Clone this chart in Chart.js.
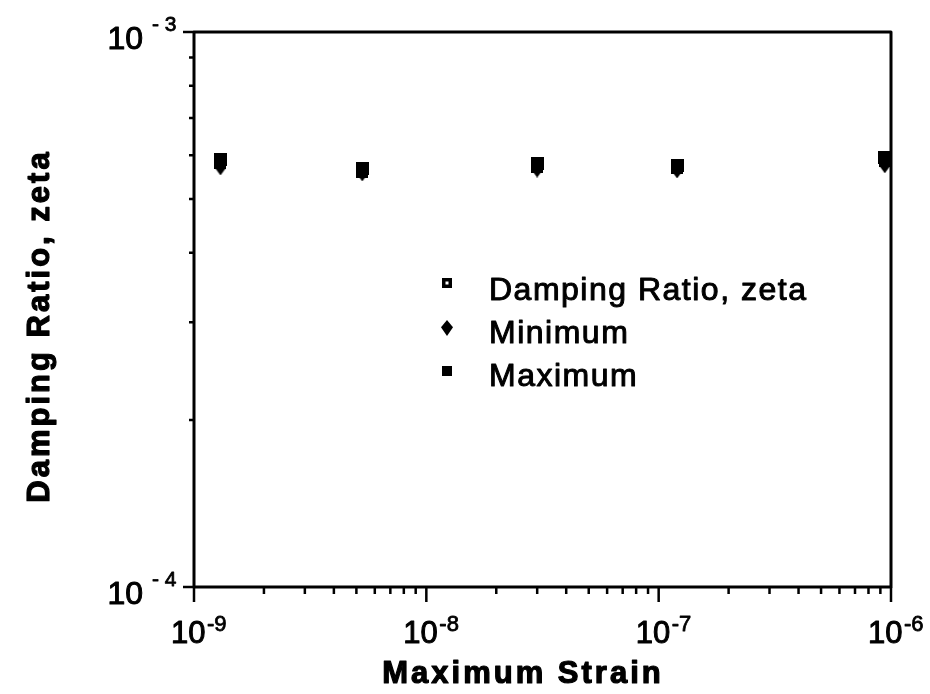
<!DOCTYPE html>
<html>
<head>
<meta charset="utf-8">
<script src="https://cdn.jsdelivr.net/npm/chart.js@4"></script>
<style>
  html, body { margin: 0; padding: 0; background: #fff; }
  canvas { display: block; }
</style>
</head>
<body>
<canvas id="chart" width="930" height="694"></canvas>
<script>
// values
const strain = [1.3e-9, 5.3e-9, 3.0e-8, 1.2e-7, 9.4e-7];
const dampingRatio = [5.80e-4, 5.60e-4, 5.72e-4, 5.68e-4, 5.85e-4];
const minimum = [5.69e-4, 5.55e-4, 5.64e-4, 5.62e-4, 5.74e-4];
const maximum = [5.89e-4, 5.68e-4, 5.80e-4, 5.75e-4, 5.94e-4];

const seriesLabels = ["Damping Ratio, zeta", "Minimum", "Maximum"];

// axis ticks
const xDecades = [1e-9, 1e-8, 1e-7, 1e-6];
const xExponents = ["-9", "-8", "-7", "-6"];
const yDecades = [1e-4, 1e-3];
const yExponents = ["-4", "-3"];
const minorSteps = [2, 3, 4, 5, 6, 7, 8, 9];

const FONT = "'Liberation Sans', Arial, Helvetica, sans-serif";

// little canvases used as point styles
function marker(kind, w, h) {
  const c = document.createElement("canvas");
  c.width = w; c.height = h;
  const g = c.getContext("2d");
  g.fillStyle = "#000";
  if (kind === "diamond") {
    g.beginPath();
    g.moveTo(w / 2, 0);
    g.lineTo(w, h * 0.45);
    g.lineTo(w / 2, h);
    g.lineTo(0, h * 0.45);
    g.closePath();
    g.fill();
  } else {
    g.fillRect(0, 0, w, h);
    if (kind === "open") {
      const hole = Math.max(2, Math.round(w / 3.5));
      g.fillStyle = "#fff";
      g.fillRect((w - hole) / 2, (h - hole) / 2, hole, hole);
    }
  }
  return c;
}

const pointMarks = [marker("open", 12, 12), marker("diamond", 12, 15), marker("square", 13, 13)];
const legendMarks = [marker("open", 10, 10), marker("diamond", 12, 16), marker("square", 10, 10)];

function toPoints(ys) {
  return strain.map((x, i) => ({ x: x, y: ys[i] }));
}

function decadeTicks(decades) {
  const ticks = [];
  decades.forEach((d, i) => {
    ticks.push({ value: d, major: true });
    if (i < decades.length - 1) {
      minorSteps.forEach(s => ticks.push({ value: d * s, major: false }));
    }
  });
  return ticks;
}

// heavier text, closer to the scanned original
function inkText(ctx, txt, x, y, w) {
  ctx.lineWidth = w;
  ctx.strokeText(txt, x, y);
  ctx.fillText(txt, x, y);
}

const framePlugin = {
  id: "frame",
  afterDraw(chart) {
    const ctx = chart.ctx;
    const a = chart.chartArea;
    const xs = chart.scales.x;
    const ys = chart.scales.y;
    ctx.save();
    ctx.strokeStyle = "#000";
    ctx.fillStyle = "#000";
    ctx.lineJoin = "round";

    // box
    ctx.lineWidth = 3;
    ctx.strokeRect(a.left, a.top, a.right - a.left, a.bottom - a.top);

    // tick marks
    ctx.lineWidth = 2.5;
    ctx.beginPath();
    xs.ticks.forEach(t => {
      const px = xs.getPixelForValue(t.value);
      ctx.moveTo(px, a.bottom);
      ctx.lineTo(px, a.bottom + (t.major ? 15 : 7));
    });
    ys.ticks.forEach(t => {
      const py = ys.getPixelForValue(t.value);
      ctx.moveTo(a.left, py);
      ctx.lineTo(a.left - (t.major ? 11 : 5), py);
    });
    ctx.stroke();

    // tick labels
    ctx.textBaseline = "alphabetic";
    xDecades.forEach((d, i) => {
      const px = xs.getPixelForValue(d);
      ctx.textAlign = "left";
      ctx.font = "31px " + FONT;
      inkText(ctx, "10", px - 23, 643, 1);
      ctx.font = "22px " + FONT;
      inkText(ctx, xExponents[i], px + 13, 631, 0.8);
    });
    yDecades.forEach((d, i) => {
      const py = ys.getPixelForValue(d);
      ctx.textAlign = "right";
      ctx.font = "32px " + FONT;
      inkText(ctx, "10", 143, py + 17, 1);
      ctx.textAlign = "left";
      ctx.font = "21px " + FONT;
      inkText(ctx, yExponents[i].replace("-", "- "), 152, py - 1, 0.8);
    });

    // axis titles
    ctx.font = "bold 31px " + FONT;
    ctx.letterSpacing = "3px";
    ctx.textAlign = "center";
    inkText(ctx, "Maximum Strain", 523, 683, 1.2);
    ctx.save();
    ctx.translate(49, 326);
    ctx.rotate(-Math.PI / 2);
    inkText(ctx, "Damping Ratio, zeta", 0, 0, 1.2);
    ctx.restore();

    // legend
    ctx.font = "32px " + FONT;
    ctx.letterSpacing = "1.5px";
    ctx.textAlign = "left";
    const rowMark = [283, 328, 371];
    const rowText = [300, 343, 386];
    chart.data.datasets.forEach((ds, i) => {
      const m = legendMarks[i];
      ctx.drawImage(m, 447 - m.width / 2, rowMark[i] - m.height / 2);
      inkText(ctx, ds.label, 489, rowText[i], 1);
    });
    ctx.letterSpacing = "0px";
    ctx.restore();
  }
};

new Chart(document.getElementById("chart"), {
  type: "scatter",
  data: {
    datasets: [
      { label: seriesLabels[0], data: toPoints(dampingRatio), pointStyle: pointMarks[0], order: 3, clip: false },
      { label: seriesLabels[1], data: toPoints(minimum), pointStyle: pointMarks[1], order: 2, clip: false },
      { label: seriesLabels[2], data: toPoints(maximum), pointStyle: pointMarks[2], order: 1, clip: false }
    ]
  },
  options: {
    responsive: false,
    animation: false,
    devicePixelRatio: 1,
    layout: { padding: { left: 194, right: 39, top: 32, bottom: 107 } },
    elements: { point: { radius: 7, hoverRadius: 7 } },
    plugins: { legend: { display: false }, tooltip: { enabled: false } },
    scales: {
      x: {
        type: "logarithmic",
        display: false,
        min: xDecades[0],
        max: xDecades[xDecades.length - 1],
        afterBuildTicks: s => { s.ticks = decadeTicks(xDecades); },
        ticks: { display: false, autoSkip: false }
      },
      y: {
        type: "logarithmic",
        display: false,
        min: yDecades[0],
        max: yDecades[yDecades.length - 1],
        afterBuildTicks: s => { s.ticks = decadeTicks(yDecades); },
        ticks: { display: false, autoSkip: false }
      }
    }
  },
  plugins: [framePlugin]
});
</script>
</body>
</html>
